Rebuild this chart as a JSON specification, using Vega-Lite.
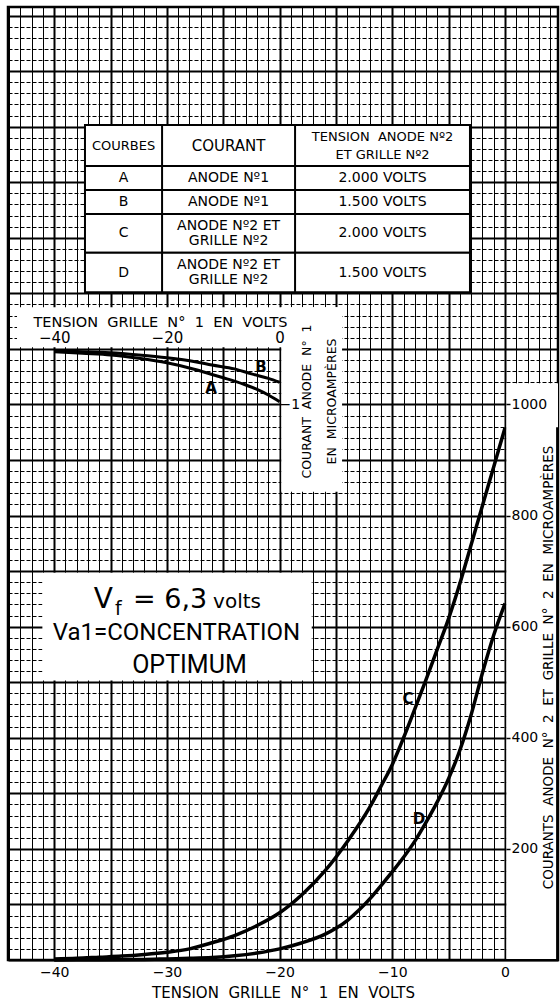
{
  "$schema": "https://vega.github.io/schema/vega-lite/v6.json",
  "width": 550,
  "height": 953,
  "autosize": {"type": "none"},
  "padding": {"left": 8, "top": 7, "right": 2, "bottom": 44},
  "background": "white",
  "config": {
    "font": "DejaVu Sans",
    "view": {"stroke": "black", "strokeWidth": 2.5},
    "axis": {"labelColor": "black", "titleColor": "black", "labelFont": "DejaVu Sans", "titleFont": "DejaVu Sans"},
    "text": {"color": "black", "font": "DejaVu Sans"}
  },
  "datasets": {
    "courbes": [
      {"courbe": "C", "v": -40, "i": 2}, {"courbe": "C", "v": -38, "i": 3}, {"courbe": "C", "v": -36, "i": 5},
      {"courbe": "C", "v": -34, "i": 7}, {"courbe": "C", "v": -32, "i": 10}, {"courbe": "C", "v": -30, "i": 14},
      {"courbe": "C", "v": -28, "i": 20}, {"courbe": "C", "v": -26, "i": 31}, {"courbe": "C", "v": -24, "i": 44},
      {"courbe": "C", "v": -22, "i": 62}, {"courbe": "C", "v": -20, "i": 85}, {"courbe": "C", "v": -18, "i": 118},
      {"courbe": "C", "v": -16, "i": 160}, {"courbe": "C", "v": -14, "i": 213}, {"courbe": "C", "v": -12, "i": 275},
      {"courbe": "C", "v": -11, "i": 313}, {"courbe": "C", "v": -10, "i": 352}, {"courbe": "C", "v": -9, "i": 400},
      {"courbe": "C", "v": -8, "i": 452}, {"courbe": "C", "v": -7, "i": 505}, {"courbe": "C", "v": -6, "i": 560},
      {"courbe": "C", "v": -5, "i": 615}, {"courbe": "C", "v": -4, "i": 678}, {"courbe": "C", "v": -3, "i": 748},
      {"courbe": "C", "v": -2, "i": 818}, {"courbe": "C", "v": -1, "i": 888}, {"courbe": "C", "v": 0, "i": 958},
      {"courbe": "D", "v": -40, "i": 0}, {"courbe": "D", "v": -36, "i": 0.5}, {"courbe": "D", "v": -32, "i": 1},
      {"courbe": "D", "v": -30, "i": 2}, {"courbe": "D", "v": -28, "i": 3}, {"courbe": "D", "v": -26, "i": 4.5},
      {"courbe": "D", "v": -24, "i": 7.5}, {"courbe": "D", "v": -22, "i": 12.5}, {"courbe": "D", "v": -20, "i": 20},
      {"courbe": "D", "v": -18, "i": 31}, {"courbe": "D", "v": -16, "i": 46}, {"courbe": "D", "v": -15, "i": 57},
      {"courbe": "D", "v": -14, "i": 71}, {"courbe": "D", "v": -13, "i": 89}, {"courbe": "D", "v": -12, "i": 110},
      {"courbe": "D", "v": -11, "i": 134}, {"courbe": "D", "v": -10, "i": 159}, {"courbe": "D", "v": -9, "i": 185},
      {"courbe": "D", "v": -8, "i": 214}, {"courbe": "D", "v": -7, "i": 248}, {"courbe": "D", "v": -6, "i": 285},
      {"courbe": "D", "v": -5, "i": 327}, {"courbe": "D", "v": -4, "i": 378}, {"courbe": "D", "v": -3, "i": 442},
      {"courbe": "D", "v": -2, "i": 517}, {"courbe": "D", "v": -1, "i": 585}, {"courbe": "D", "v": 0, "i": 642}
    ],
    "encart": [
      {"courbe": "A", "v": -40, "i": -0.05}, {"courbe": "A", "v": -35, "i": -0.08}, {"courbe": "A", "v": -30, "i": -0.11},
      {"courbe": "A", "v": -25, "i": -0.17}, {"courbe": "A", "v": -20, "i": -0.25}, {"courbe": "A", "v": -15, "i": -0.37},
      {"courbe": "A", "v": -12, "i": -0.46}, {"courbe": "A", "v": -10, "i": -0.52}, {"courbe": "A", "v": -8, "i": -0.58},
      {"courbe": "A", "v": -6, "i": -0.65}, {"courbe": "A", "v": -4, "i": -0.73}, {"courbe": "A", "v": -2, "i": -0.83},
      {"courbe": "A", "v": 0, "i": -0.95},
      {"courbe": "B", "v": -40, "i": -0.04}, {"courbe": "B", "v": -35, "i": -0.05}, {"courbe": "B", "v": -30, "i": -0.07},
      {"courbe": "B", "v": -25, "i": -0.11}, {"courbe": "B", "v": -20, "i": -0.16}, {"courbe": "B", "v": -15, "i": -0.23},
      {"courbe": "B", "v": -12, "i": -0.29}, {"courbe": "B", "v": -8, "i": -0.36}, {"courbe": "B", "v": -5, "i": -0.45},
      {"courbe": "B", "v": -2, "i": -0.53}, {"courbe": "B", "v": 0, "i": -0.6}
    ],
    "tableau": [
      {"courbe": "COURBES", "courant": "COURANT", "tension": "TENSION\u00a0 ANODE Nº2\nET GRILLE Nº2"},
      {"courbe": "A", "courant": "ANODE Nº1", "tension": "2.000 VOLTS"},
      {"courbe": "B", "courant": "ANODE Nº1", "tension": "1.500 VOLTS"},
      {"courbe": "C", "courant": "ANODE Nº2 ET\nGRILLE Nº2", "tension": "2.000 VOLTS"},
      {"courbe": "D", "courant": "ANODE Nº2 ET\nGRILLE Nº2", "tension": "1.500 VOLTS"}
    ]
  },
  "resolve": {"scale": {"x": "independent", "y": "independent"}},
  "layer": [
    {
      "layer": [
        {
          "data": {"name": "courbes"},
          "mark": {"type": "line", "color": "black", "strokeWidth": 3.5, "interpolate": "monotone"},
          "encoding": {
            "x": {
              "field": "v", "type": "quantitative",
              "scale": {"domain": [-44.1, 4.7], "nice": false, "zero": false},
              "axis": {
                "orient": "bottom", "tickCount": 200, "format": "d",
                "values": [-44,-43,-42,-41,-40,-39,-38,-37,-36,-35,-34,-33,-32,-31,-30,-29,-28,-27,-26,-25,-24,-23,-22,-21,-20,-19,-18,-17,-16,-15,-14,-13,-12,-11,-10,-9,-8,-7,-6,-5,-4,-3,-2,-1,0,1,2,3,4],
                "grid": true, "gridColor": "black", "gridOpacity": 1,
                "gridWidth": {"condition": {"test": "datum.value % 5 === 0", "value": 2}, "value": 1},
                "ticks": false, "domain": false,
                "labelExpr": "datum.value % 10 === 0 ? datum.label : ''",
                "labelFontSize": 14, "labelPadding": 5, "labelOverlap": false, "labelFlush": false,
                "title": "TENSION\u00a0 GRILLE\u00a0 N°\u00a0 1\u00a0 EN\u00a0 VOLTS",
                "titleFontSize": 15, "titleFontWeight": "normal", "titleY": 37, "titleBaseline": "alphabetic"
              }
            },
            "y": {
              "field": "i", "type": "quantitative",
              "scale": {"domain": [0, 1715.4], "nice": false, "zero": false},
              "axis": {
                "orient": "left", "tickCount": 300,
                "values": [0,20,40,60,80,100,120,140,160,180,200,220,240,260,280,300,320,340,360,380,400,420,440,460,480,500,520,540,560,580,600,620,640,660,680,700,720,740,760,780,800,820,840,860,880,900,920,940,960,980,1000,1020,1040,1060,1080,1100,1120,1140,1160,1180,1200,1220,1240,1260,1280,1300,1320,1340,1360,1380,1400,1420,1440,1460,1480,1500,1520,1540,1560,1580,1600,1620,1640,1660,1680,1700],
                "grid": true, "gridColor": "black", "gridOpacity": 1,
                "gridWidth": {"condition": {"test": "datum.value % 100 === 0", "value": 2}, "value": 1},
                "gridDash": {"condition": {"test": "datum.value % 100 === 0", "value": []}, "value": [4, 2]},
                "ticks": false, "domain": false, "labels": false, "title": null
              }
            },
            "detail": {"field": "courbe", "type": "nominal"}
          }
        },
        {
          "data": {"values": [{}]},
          "mark": {"type": "rect", "fill": "white"},
          "encoding": {"x": {"datum": -43.3}, "x2": {"datum": -14.46}, "y": {"datum": 1103}, "y2": {"datum": 1175}}
        },
        {
          "data": {"values": [{}]},
          "mark": {"type": "rect", "fill": "white"},
          "encoding": {"x": {"datum": -19.85}, "x2": {"datum": -14.46}, "y": {"datum": 843}, "y2": {"datum": 1175}}
        },
        {
          "data": {"values": [{}]},
          "mark": {"type": "rect", "fill": "white"},
          "encoding": {"x": {"datum": -41.05}, "x2": {"datum": -17.15}, "y": {"datum": 503}, "y2": {"datum": 697}}
        },
        {
          "data": {"values": [{}]},
          "mark": {"type": "rect", "fill": "white"},
          "encoding": {"x": {"datum": 0.12}, "x2": {"datum": 4.7}, "y": {"datum": 2}, "y2": {"datum": 1038}}
        },
        {
          "data": {"name": "tableau"},
          "transform": [{"filter": "datum.courbe === 'COURBES'"}],
          "layer": [
            {"mark": {"type": "rect", "fill": "white", "stroke": "black", "strokeWidth": 2},
             "encoding": {"x": {"datum": -37.27}, "x2": {"datum": -3.11}, "y": {"datum": 1429}, "y2": {"datum": 1503}}},
            {"mark": {"type": "text", "fontSize": 13},
             "encoding": {"x": {"datum": -33.85}, "y": {"datum": 1466}, "text": {"field": "courbe", "type": "nominal"}}},
            {"mark": {"type": "text", "fontSize": 15},
             "encoding": {"x": {"datum": -24.53}, "y": {"datum": 1466}, "text": {"field": "courant", "type": "nominal"}}},
            {"mark": {"type": "text", "fontSize": 13, "lineBreak": "\n", "lineHeight": 18},
             "encoding": {"x": {"datum": -10.87}, "y": {"datum": 1482}, "text": {"field": "tension", "type": "nominal"}}}
          ]
        },
        {
          "data": {"name": "tableau"},
          "transform": [{"filter": "datum.courbe === 'A'"}],
          "layer": [
            {"mark": {"type": "rect", "fill": "white", "stroke": "black", "strokeWidth": 2},
             "encoding": {"x": {"datum": -37.27}, "x2": {"datum": -3.11}, "y": {"datum": 1386}, "y2": {"datum": 1429}}},
            {"mark": {"type": "text", "fontSize": 14},
             "encoding": {"x": {"datum": -33.85}, "y": {"datum": 1407.5}, "text": {"field": "courbe", "type": "nominal"}}},
            {"mark": {"type": "text", "fontSize": 14},
             "encoding": {"x": {"datum": -24.53}, "y": {"datum": 1407.5}, "text": {"field": "courant", "type": "nominal"}}},
            {"mark": {"type": "text", "fontSize": 14},
             "encoding": {"x": {"datum": -10.87}, "y": {"datum": 1407.5}, "text": {"field": "tension", "type": "nominal"}}}
          ]
        },
        {
          "data": {"name": "tableau"},
          "transform": [{"filter": "datum.courbe === 'B'"}],
          "layer": [
            {"mark": {"type": "rect", "fill": "white", "stroke": "black", "strokeWidth": 2},
             "encoding": {"x": {"datum": -37.27}, "x2": {"datum": -3.11}, "y": {"datum": 1343}, "y2": {"datum": 1386}}},
            {"mark": {"type": "text", "fontSize": 14},
             "encoding": {"x": {"datum": -33.85}, "y": {"datum": 1364.5}, "text": {"field": "courbe", "type": "nominal"}}},
            {"mark": {"type": "text", "fontSize": 14},
             "encoding": {"x": {"datum": -24.53}, "y": {"datum": 1364.5}, "text": {"field": "courant", "type": "nominal"}}},
            {"mark": {"type": "text", "fontSize": 14},
             "encoding": {"x": {"datum": -10.87}, "y": {"datum": 1364.5}, "text": {"field": "tension", "type": "nominal"}}}
          ]
        },
        {
          "data": {"name": "tableau"},
          "transform": [{"filter": "datum.courbe === 'C'"}],
          "layer": [
            {"mark": {"type": "rect", "fill": "white", "stroke": "black", "strokeWidth": 2},
             "encoding": {"x": {"datum": -37.27}, "x2": {"datum": -3.11}, "y": {"datum": 1273}, "y2": {"datum": 1343}}},
            {"mark": {"type": "text", "fontSize": 14},
             "encoding": {"x": {"datum": -33.85}, "y": {"datum": 1308}, "text": {"field": "courbe", "type": "nominal"}}},
            {"mark": {"type": "text", "fontSize": 14, "lineBreak": "\n", "lineHeight": 15},
             "encoding": {"x": {"datum": -24.53}, "y": {"datum": 1321.5}, "text": {"field": "courant", "type": "nominal"}}},
            {"mark": {"type": "text", "fontSize": 14},
             "encoding": {"x": {"datum": -10.87}, "y": {"datum": 1308}, "text": {"field": "tension", "type": "nominal"}}}
          ]
        },
        {
          "data": {"name": "tableau"},
          "transform": [{"filter": "datum.courbe === 'D'"}],
          "layer": [
            {"mark": {"type": "rect", "fill": "white", "stroke": "black", "strokeWidth": 2},
             "encoding": {"x": {"datum": -37.27}, "x2": {"datum": -3.11}, "y": {"datum": 1202}, "y2": {"datum": 1273}}},
            {"mark": {"type": "text", "fontSize": 14},
             "encoding": {"x": {"datum": -33.85}, "y": {"datum": 1237.5}, "text": {"field": "courbe", "type": "nominal"}}},
            {"mark": {"type": "text", "fontSize": 14, "lineBreak": "\n", "lineHeight": 15},
             "encoding": {"x": {"datum": -24.53}, "y": {"datum": 1251}, "text": {"field": "courant", "type": "nominal"}}},
            {"mark": {"type": "text", "fontSize": 14},
             "encoding": {"x": {"datum": -10.87}, "y": {"datum": 1237.5}, "text": {"field": "tension", "type": "nominal"}}}
          ]
        },
        {
          "data": {"values": [{}]},
          "mark": {"type": "rule", "color": "black", "strokeWidth": 2},
          "encoding": {"x": {"datum": -30.43}, "y": {"datum": 1202}, "y2": {"datum": 1503}}
        },
        {
          "data": {"values": [{}]},
          "mark": {"type": "rule", "color": "black", "strokeWidth": 2},
          "encoding": {"x": {"datum": -18.63}, "y": {"datum": 1202}, "y2": {"datum": 1503}}
        },
        {
          "data": {"values": [{}]},
          "mark": {"type": "text", "text": "V", "fontSize": 28, "align": "left", "baseline": "alphabetic"},
          "encoding": {"x": {"datum": -36.5}, "y": {"datum": 633.6}}
        },
        {
          "data": {"values": [{}]},
          "mark": {"type": "text", "text": "f", "fontSize": 19, "align": "left", "baseline": "alphabetic"},
          "encoding": {"x": {"datum": -34.6}, "y": {"datum": 621}}
        },
        {
          "data": {"values": [{}]},
          "mark": {"type": "text", "text": "= 6,3", "fontSize": 27, "align": "left", "baseline": "alphabetic"},
          "encoding": {"x": {"datum": -33.0}, "y": {"datum": 633.6}}
        },
        {
          "data": {"values": [{}]},
          "mark": {"type": "text", "text": "volts", "fontSize": 20, "align": "left", "baseline": "alphabetic"},
          "encoding": {"x": {"datum": -25.9}, "y": {"datum": 633.6}}
        },
        {
          "data": {"values": [{}]},
          "mark": {"type": "text", "text": "Va1=CONCENTRATION", "font": "Roboto", "fontSize": 24, "align": "center", "baseline": "alphabetic"},
          "encoding": {"x": {"datum": -29.15}, "y": {"datum": 576}}
        },
        {
          "data": {"values": [{}]},
          "mark": {"type": "text", "text": "OPTIMUM", "font": "Roboto", "fontSize": 25, "align": "center", "baseline": "alphabetic"},
          "encoding": {"x": {"datum": -28.0}, "y": {"datum": 516.6}}
        },
        {
          "data": {"values": [{}]},
          "mark": {"type": "text", "text": "C", "fontSize": 15, "fontWeight": "bold"},
          "encoding": {"x": {"datum": -8.61}, "y": {"datum": 469.8}}
        },
        {
          "data": {"values": [{}]},
          "mark": {"type": "text", "text": "D", "fontSize": 15, "fontWeight": "bold"},
          "encoding": {"x": {"datum": -7.63}, "y": {"datum": 253.8}}
        }
      ]
    },
    {
      "layer": [
        {
          "data": {"name": "encart"},
          "mark": {"type": "line", "color": "black", "strokeWidth": 3, "interpolate": "monotone"},
          "encoding": {
            "x": {
              "field": "v", "type": "quantitative",
              "scale": {"domain": [-48.2, 49.4], "nice": false, "zero": false},
              "axis": {
                "orient": "top", "offset": -343, "values": [-40, -20, 0], "tickCount": 10, "format": "d",
                "ticks": false, "domain": false, "grid": false,
                "labelFontSize": 15, "labelPadding": 5, "labelFlush": false, "labelOverlap": false,
                "title": "TENSION\u00a0 GRILLE\u00a0 N°\u00a0 1\u00a0 EN\u00a0 VOLTS",
                "titleFontSize": 14.5, "titleFontWeight": "normal",
                "titleX": 152, "titleY": -24, "titleAlign": "center", "titleBaseline": "alphabetic",
                "zindex": 1
              }
            },
            "y": {
              "field": "i", "type": "quantitative",
              "scale": {"domain": [-11, 6.154], "nice": false, "zero": false},
              "axis": {
                "orient": "right", "offset": -280, "values": [-1], "format": "d",
                "ticks": false, "domain": false, "grid": false,
                "labelFontSize": 14, "labelPadding": 1, "labelBaseline": "middle", "labelFlush": false,
                "title": ["COURANT\u00a0 ANODE\u00a0 N°\u00a0 1", "EN\u00a0 MICROAMPÈRES"],
                "titleAngle": 270, "titleX": 28, "titleY": 394, "titleAlign": "center", "titleBaseline": "middle",
                "titleLineHeight": 25, "titleFontSize": 12.5, "titleFontWeight": "normal",
                "zindex": 1
              }
            },
            "detail": {"field": "courbe", "type": "nominal"}
          }
        },
        {
          "data": {"values": [{}]},
          "mark": {"type": "text", "text": "A", "fontSize": 15, "fontWeight": "bold"},
          "encoding": {"x": {"datum": -12.17}, "y": {"datum": -0.704}}
        },
        {
          "data": {"values": [{}]},
          "mark": {"type": "text", "text": "B", "fontSize": 15, "fontWeight": "bold"},
          "encoding": {"x": {"datum": -3.3}, "y": {"datum": -0.326}}
        }
      ]
    },
    {
      "data": {"values": [{}]},
      "mark": {"type": "rule", "color": "black", "strokeWidth": 2},
      "encoding": {
        "x": {"datum": 4.62, "type": "quantitative", "scale": {"domain": [-44.1, 4.7], "nice": false, "zero": false}, "axis": null},
        "y": {
          "datum": 0, "type": "quantitative",
          "scale": {"domain": [0, 1715.4], "nice": false, "zero": false},
          "axis": {
            "orient": "right", "offset": -52, "values": [200, 400, 600, 800, 1000], "format": "d",
            "tickSize": 4, "tickWidth": 1.5, "tickColor": "black", "domain": false, "grid": false,
            "labelFontSize": 14, "labelPadding": 1, "labelFlush": false, "labelOverlap": false, "labelBaseline": "middle",
            "title": "COURANTS\u00a0 ANODE\u00a0 N°\u00a0 2\u00a0 ET\u00a0 GRILLE\u00a0 N°\u00a0 2\u00a0 EN\u00a0 MICROAMPÈRES",
            "titleAngle": 270, "titleX": 42, "titleY": 660, "titleAlign": "center", "titleBaseline": "middle",
            "titleFontSize": 13.5, "titleFontWeight": "normal",
            "zindex": 1
          }
        },
        "y2": {"datum": 959}
      }
    }
  ]
}
